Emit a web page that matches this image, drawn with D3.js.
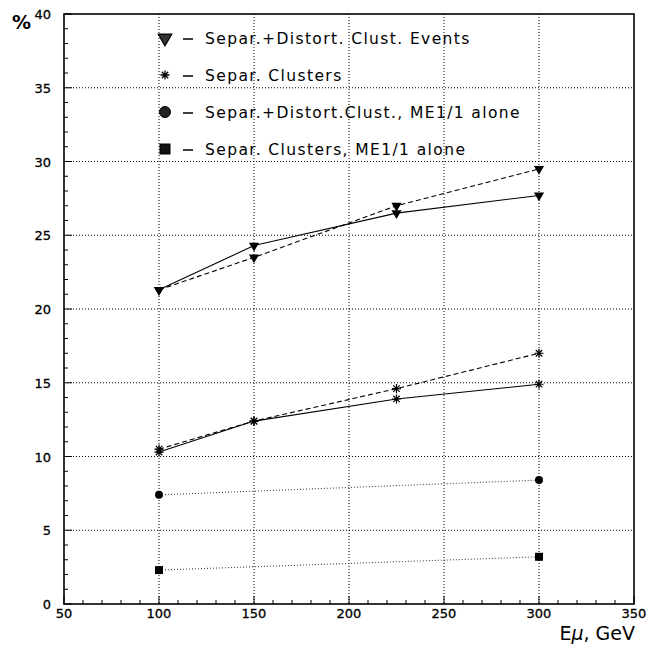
<!DOCTYPE html>
<html>
<head>
<meta charset="utf-8">
<script src="https://cdn.jsdelivr.net/npm/d3@7"></script>
<style>
  body { margin: 0; background: #fff; }
  text { font-family: "DejaVu Sans", "Liberation Sans", sans-serif; }
</style>
</head>
<body>
<div id="chart"></div>
<script>
// data
const energies = [100, 150, 225, 300];
const sepDistEvents = [21.3, 24.3, 26.5, 27.7];     // triangles, solid
const sepDistEventsB = [21.3, 23.5, 27.0, 29.5];    // triangles, dashed
const sepClusters = [10.3, 12.4, 13.9, 14.9];       // stars, solid
const sepClustersB = [10.5, 12.4, 14.6, 17.0];      // stars, dashed
const me11Energies = [100, 300];
const sepDistMe11 = [7.4, 8.4];                     // circles, dotted
const sepMe11 = [2.3, 3.2];                         // squares, dotted

const legendLabels = [
  "Separ.+Distort. Clust. Events",
  "Separ. Clusters",
  "Separ.+Distort.Clust.,  ME1/1 alone",
  "Separ. Clusters,  ME1/1 alone"
];
const xTicks = [50, 100, 150, 200, 250, 300, 350];
const yTicks = [0, 5, 10, 15, 20, 25, 30, 35, 40];

const svgWidth = 647, svgHeight = 645;
const margin = { top: 14, right: 13, bottom: 41, left: 64 };
const width = svgWidth - margin.left - margin.right;
const height = svgHeight - margin.top - margin.bottom;

const svg = d3.select("#chart").append("svg")
  .attr("width", svgWidth)
  .attr("height", svgHeight);

const g = svg.append("g")
  .attr("transform", `translate(${margin.left}, ${margin.top})`);

const x = d3.scaleLinear().domain([50, 350]).range([0, width]);
const y = d3.scaleLinear().domain([0, 40]).range([height, 0]);

// grid
g.selectAll(".gx").data(xTicks.slice(1, -1)).enter().append("line")
  .attr("x1", d => x(d)).attr("x2", d => x(d))
  .attr("y1", 0).attr("y2", height)
  .attr("stroke", "#000").attr("stroke-width", 1).attr("stroke-dasharray", "1,2");
g.selectAll(".gy").data(yTicks.slice(1, -1)).enter().append("line")
  .attr("y1", d => y(d)).attr("y2", d => y(d))
  .attr("x1", 0).attr("x2", width)
  .attr("stroke", "#000").attr("stroke-width", 1).attr("stroke-dasharray", "1,2");

// minor + major ticks (inside)
const xMinor = d3.range(50, 351, 10);
g.selectAll(".tx").data(xMinor).enter().append("line")
  .attr("x1", d => x(d)).attr("x2", d => x(d))
  .attr("y1", height).attr("y2", d => height - (d % 50 === 0 ? 8 : 4))
  .attr("stroke", "#000");
const yMinor = d3.range(0, 41, 1);
g.selectAll(".ty").data(yMinor).enter().append("line")
  .attr("y1", d => y(d)).attr("y2", d => y(d))
  .attr("x1", 0).attr("x2", d => (d % 5 === 0 ? 8 : 4))
  .attr("stroke", "#000");

// frame
g.append("rect")
  .attr("width", width).attr("height", height)
  .attr("fill", "none").attr("stroke", "#000").attr("stroke-width", 1.6);

// tick labels
g.selectAll(".lx").data(xTicks).enter().append("text")
  .attr("x", d => x(d)).attr("y", height + 14)
  .attr("text-anchor", "middle").attr("font-size", 13)
  .attr("stroke", "#000").attr("stroke-width", 0.3)
  .text(d => d);
g.selectAll(".ly").data(yTicks).enter().append("text")
  .attr("x", -13).attr("y", d => y(d) + 5)
  .attr("text-anchor", "end").attr("font-size", 13)
  .attr("stroke", "#000").attr("stroke-width", 0.3)
  .text(d => d);

// axis titles
const xt = svg.append("text").attr("x", 635).attr("y", 640)
  .attr("text-anchor", "end").attr("font-size", 19);
xt.append("tspan").text("E");
xt.append("tspan").attr("font-style", "italic").text("μ");
xt.append("tspan").text(", GeV");
svg.append("text").attr("x", 12).attr("y", 29)
  .attr("font-size", 19).attr("font-weight", "bold")
  .text("%");

// lines
const line = d3.line().x(d => x(d[0])).y(d => y(d[1]));
const zip = (xs, ys) => xs.map((v, i) => [v, ys[i]]);

function drawLine(xs, ys, dash, color) {
  g.append("path").datum(zip(xs, ys))
    .attr("d", line)
    .attr("fill", "none")
    .attr("stroke", color || "#000")
    .attr("stroke-width", 1.1)
    .attr("stroke-dasharray", dash);
}
drawLine(energies, sepDistEvents, null);
drawLine(energies, sepDistEventsB, "5,3");
drawLine(energies, sepClusters, null);
drawLine(energies, sepClustersB, "5,3");
drawLine(me11Energies, sepDistMe11, "1,2", "#444");
drawLine(me11Energies, sepMe11, "1,2", "#444");

// asterisk symbol: 4 strokes
const asterisk8 = {
  draw(ctx, size) {
    const r = Math.sqrt(size) / 2 + 1;
    for (let k = 0; k < 4; k++) {
      const a = k * Math.PI / 4;
      ctx.moveTo(-r * Math.cos(a), -r * Math.sin(a));
      ctx.lineTo(r * Math.cos(a), r * Math.sin(a));
    }
  }
};
const triangle = d3.symbol().type(d3.symbolTriangle).size(45);

function drawMarkers(xs, ys, kind, s) {
  const pts = g.append("g").selectAll("g").data(zip(xs, ys)).enter().append("g")
    .attr("transform", d => `translate(${x(d[0])}, ${y(d[1])})`);
  if (kind === "tri") {
    pts.append("path").attr("d", triangle).attr("transform", "rotate(180)")
      .attr("fill", "#000");
  } else if (kind === "star") {
    pts.append("path").attr("d", d3.symbol().type(asterisk8).size(50))
      .attr("fill", "none").attr("stroke", "#000").attr("stroke-width", 1.2);
  } else if (kind === "circle") {
    pts.append("circle").attr("r", s).attr("fill", "#000");
  } else {
    pts.append("rect").attr("x", -s).attr("y", -s)
      .attr("width", 2 * s).attr("height", 2 * s).attr("fill", "#000");
  }
}

drawMarkers(energies, sepDistEvents, "tri");
drawMarkers(energies, sepDistEventsB, "tri");
drawMarkers(energies, sepClusters, "star");
drawMarkers(energies, sepClustersB, "star");
drawMarkers(me11Energies, sepDistMe11, "circle", 4);
drawMarkers(me11Energies, sepMe11, "square", 4);

// legend
const legY = [38, 75, 112, 149];
const legKinds = ["tri", "star", "circle", "square"];
const leg = svg.append("g");
legKinds.forEach((k, i) => {
  const row = leg.append("g").attr("transform", `translate(165, ${legY[i]})`);
  if (k === "tri") {
    row.append("path").attr("d", d3.symbol().type(d3.symbolTriangle).size(80))
      .attr("transform", "rotate(180)").attr("fill", "#333").attr("stroke", "#000").attr("stroke-width", 1.2);
  } else if (k === "star") {
    row.append("path").attr("d", d3.symbol().type(asterisk8).size(50))
      .attr("fill", "none").attr("stroke", "#000").attr("stroke-width", 1.3);
  } else if (k === "circle") {
    row.append("circle").attr("r", 5.5).attr("fill", "#222").attr("stroke", "#000");
  } else {
    row.append("rect").attr("x", -5).attr("y", -5).attr("width", 10).attr("height", 10)
      .attr("fill", "#111").attr("stroke", "#000");
  }
  row.append("line").attr("x1", 18).attr("x2", 28).attr("y1", 1).attr("y2", 1)
    .attr("stroke", "#000").attr("stroke-width", 1.5);
  row.append("text").attr("x", 40).attr("y", 6).attr("font-size", 15.5)
    .attr("letter-spacing", 1.4)
    .text(legendLabels[i]);
});
</script>
</body>
</html>
